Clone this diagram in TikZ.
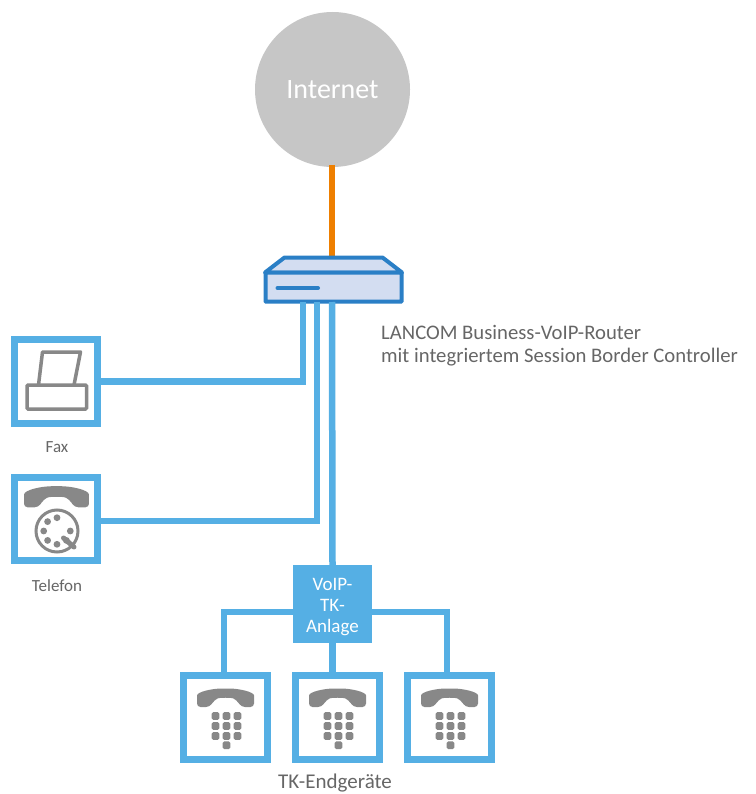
\documentclass[tikz,border=0pt]{standalone}
\usepackage{fontspec}
\setmainfont{Carlito}
\definecolor{wireblue}{HTML}{55AFE4}
\definecolor{routerblue}{HTML}{2A7FC6}
\definecolor{routerfill}{HTML}{D3DDF1}
\definecolor{wanorange}{HTML}{EE7F00}
\definecolor{cloudgray}{HTML}{C6C6C6}
\definecolor{icongray}{HTML}{888888}
\definecolor{textgray}{HTML}{666666}
\tikzset{
  handset/.pic={
    \fill[icongray, rounded corners=3.5pt] (-28.5,9) -- (-28.5,1) .. controls (-28.5,-6) and (-14,-9.5) .. (0,-9.5)
      .. controls (14,-9.5) and (28.5,-6) .. (28.5,1) -- (28.5,9) -- (16,9) -- (11,2)
      .. controls (6,-0.5) and (-6,-0.5) .. (-11,2) -- (-16,9) -- cycle;
  },
  keypad/.pic={
    \foreach \x in {-11,0,11}
      \foreach \y in {0,10,20}
        \fill[icongray, rounded corners=1.5pt] (\x-3.8,\y-3.8) rectangle (\x+3.8,\y+3.8);
    \fill[icongray, rounded corners=1.5pt] (-3.8,25.4) rectangle (3.8,33);
  }
}
\begin{document}
\begin{tikzpicture}[x=1pt, y=-1pt,
    wire/.style={draw=wireblue, line width=6.5pt},
    devicebox/.style={draw=wireblue, line width=7pt, fill=white, minimum size=83.5pt, inner sep=0pt},
    caption/.style={text=textgray, font=\fontsize{17}{20}\selectfont, inner sep=0pt}]
 \useasboundingbox (0,0) rectangle (755,794);
 % cloud and router
 \node[circle, fill=cloudgray, minimum size=155pt, inner sep=0pt, text=white,
    font=\fontsize{28}{32}\selectfont] (internet) at (332.5,89.5) {Internet};
 \coordinate (routertop) at (332,258);
 \draw[draw=wanorange, line width=6pt] (332,165) -- (routertop);
 \draw[draw=routerblue, fill=routerfill, line width=4pt, line join=round]
    (265,272.5) -- (284.5,257.5) -- (382.5,257.5) -- (402,272.5) -- cycle;
 \node[draw=routerblue, fill=routerfill, line width=4pt, rounded corners=0.5pt, minimum width=136pt,
    minimum height=29pt, inner sep=0pt] (router) at (333.5,287) {};
 \draw[draw=routerblue, line width=4pt, line cap=round] (277.5,288) -- (318,288);
 \node[text=textgray, align=left, anchor=north west, inner sep=0pt,
    font=\fontsize{20.7}{23.5}\selectfont] (routerlabel) at (381,325)
    {LANCOM Business-VoIP-Router\\mit integriertem Session Border Controller};
 % devices on the left
 \node[devicebox] (fax) at (56,381.5) {};
 \node[caption, below=0pt] (faxlabel) at (57,441) {Fax};
 \node[devicebox] (telefon) at (56,519) {};
 \node[caption, below=0pt] (telefonlabel) at (57,579) {Telefon};
 \coordinate (faxport) at (303,302);
 \coordinate (telport) at (317,302);
 \coordinate (telout) at (100,521);
 \draw[wire] (fax.east) -| (faxport);
 \draw[wire] (telout) -| (telport);
 % fax icon
 \draw[icongray, line width=3.5pt, line join=round] (38.5,385) -- (42.5,352) -- (80.5,352) -- (74,385);
 \draw[icongray, line width=3.5pt, rounded corners=1pt] (27,385) rectangle (86.5,409);
 % rotary phone icon
 \path (56.5,497) pic[scale=1.14] {handset};
 \coordinate (dial) at (57,531);
 \draw[icongray, line width=3pt] (dial) circle (21pt);
 \foreach \a in {0,90,135,180,225,270,315}
   \fill[icongray] (dial) ++(\a:13.3pt) circle (3.4pt);
 \draw[icongray, line width=5pt, line cap=round] (63.5,538) -- (74,547);
 % pbx and its phones
 \node[fill=wireblue, text=white, align=center, minimum width=79pt, minimum height=78pt, inner sep=0pt,
    font=\fontsize{19}{21}\selectfont] (pbx) at (332.5,604) {\rule{0pt}{19pt}VoIP-\\TK-\\Anlage};
 \coordinate (pbxleft) at (293,612);
 \coordinate (pbxright) at (372,612);
 \coordinate (routerport) at (332,302);
 \draw[wire] (routerport) -- (pbx.north);
 \foreach \name/\x in {phonea/225.5, phoneb/337.5, phonec/449.5} {
   \node[devicebox] (\name) at (\x,717.5) {};
   \path (\x,698) pic {handset};
   \path (\x+1,716) pic {keypad};
 }
 \draw[wire] (pbxleft) -| ([xshift=-1.5pt]phonea.north);
 \draw[wire] (pbx.south) -- (pbx.south |- phoneb.north);
 \draw[wire] (pbxright) -| ([xshift=-2.5pt]phonec.north);
 \node[caption, font=\fontsize{21}{23}\selectfont, anchor=base] (phoneslabel) at (335,788.5) {TK-Endgeräte};
\end{tikzpicture}
\end{document}
